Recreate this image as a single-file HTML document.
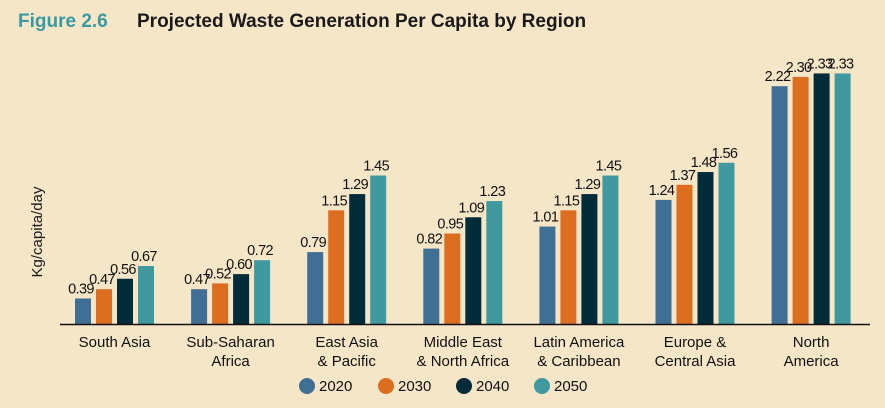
<!DOCTYPE html>
<html><head><meta charset="utf-8"><style>
body{margin:0;background:#f6e6c8;}
svg{display:block;font-family:"Liberation Sans",Arial,sans-serif;}
</style></head><body>
<svg id="c" width="885" height="408" viewBox="0 0 885 408">
<rect width="885" height="408" fill="#f6e6c8"/>
<text x="18" y="27" font-size="19" font-weight="bold" fill="#3a9aa2">Figure 2.6</text>
<text x="137" y="27" font-size="19" font-weight="bold" fill="#1a1a1a">Projected Waste Generation Per Capita by Region</text>
<text transform="translate(42,232) rotate(-90)" text-anchor="middle" font-size="15" fill="#1a1a1a">Kg/capita/day</text>
<g id="bars"></g>
<line x1="60" x2="870" y1="324.5" y2="324.5" stroke="#111" stroke-width="1.5"/>
<g id="legend"></g>
</svg>
<script>
const categories=[["South Asia"],["Sub-Saharan","Africa"],["East Asia","& Pacific"],["Middle East","& North Africa"],["Latin America","& Caribbean"],["Europe &","Central Asia"],["North","America"]];
const seriesNames=["2020","2030","2040","2050"];
const s2020=[0.39,0.47,0.79,0.82,1.01,1.24,2.22];
const s2030=[0.47,0.52,1.15,0.95,1.15,1.37,2.30];
const s2040=[0.56,0.60,1.29,1.09,1.29,1.48,2.33];
const s2050=[0.67,0.72,1.45,1.23,1.45,1.56,2.33];
const series=[s2020,s2030,s2040,s2050];
const colors=["#3f6f94","#dd6e20","#032c3a","#40999f"];
const NS="http://www.w3.org/2000/svg";
const base=324,v0=0.17,k=116;
function y(v){return base-(v-v0)*k;}
function gx(i){return 75+i*116.1;}
const g=document.getElementById('bars');
function mk(t,a){const e=document.createElementNS(NS,t);for(const n in a)e.setAttribute(n,a[n]);return e;}
categories.forEach((cat,i)=>{
  series.forEach((s,j)=>{
    const x=gx(i)+j*21,t=y(s[i]);
    const r=mk('rect',{x:x,y:t,width:16,height:base-t,fill:colors[j]});
    
    
    g.appendChild(r);
    const tx=mk('text',{x:x+6,y:t-5,'text-anchor':'middle','font-size':'14.5','letter-spacing':'-0.6',fill:'#111'});
    tx.textContent=s[i].toFixed(2);
    
    
    g.appendChild(tx);
  });
  const cx=gx(i)+39.5;
  cat.forEach((line,l)=>{
    const tx=mk('text',{x:cx,y:347+l*19,'text-anchor':'middle','font-size':'15',fill:'#111'});
    tx.textContent=line;
    
    
    g.appendChild(tx);
  });
});
const lg=document.getElementById('legend');
const lx=[307,386,464,542];
seriesNames.forEach((n,j)=>{
  const gg=mk('g',{});
  
  
  gg.appendChild(mk('circle',{cx:lx[j],cy:386,r:8,fill:colors[j]}));
  const t=mk('text',{x:lx[j]+12,y:391,'font-size':'15',fill:'#111'});
  t.textContent=n;gg.appendChild(t);
  lg.appendChild(gg);
});
</script>
</body></html>
